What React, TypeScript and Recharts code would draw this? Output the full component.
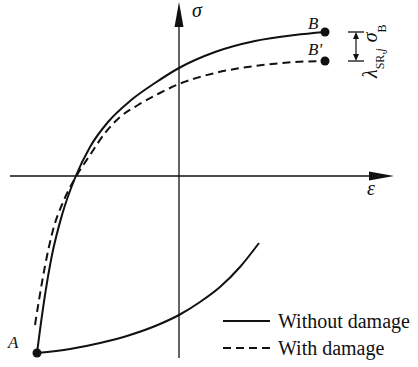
import React from "react";
import {
  ComposedChart,
  Line,
  XAxis,
  YAxis,
  ReferenceLine,
  ReferenceDot,
  Legend,
} from "recharts";

// strain (x) / stress (y) in normalised units, origin at the axes crossing
const withoutDamage = [
  { x: -1.42, y: -1.77 },
  { x: -1.39, y: -1.54 },
  { x: -1.34, y: -1.19 },
  { x: -1.27, y: -0.79 },
  { x: -1.17, y: -0.39 },
  { x: -1.04, y: -0.02 },
  { x: -0.89, y: 0.29 },
  { x: -0.71, y: 0.54 },
  { x: -0.49, y: 0.75 },
  { x: -0.24, y: 0.93 },
  { x: 0, y: 1.08 },
  { x: 0.36, y: 1.24 },
  { x: 0.76, y: 1.35 },
  { x: 1.16, y: 1.41 },
  { x: 1.46, y: 1.44 },
];

const withDamage = [
  { x: -1.44, y: -1.49 },
  { x: -1.4, y: -1.24 },
  { x: -1.34, y: -0.9 },
  { x: -1.26, y: -0.54 },
  { x: -1.15, y: -0.24 },
  { x: -1.02, y: 0.01 },
  { x: -0.89, y: 0.21 },
  { x: -0.74, y: 0.43 },
  { x: -0.59, y: 0.59 },
  { x: -0.41, y: 0.71 },
  { x: -0.21, y: 0.82 },
  { x: 0, y: 0.92 },
  { x: 0.36, y: 1.03 },
  { x: 0.76, y: 1.1 },
  { x: 1.16, y: 1.14 },
  { x: 1.46, y: 1.15 },
];

const lowerBranch = [
  { x: -1.42, y: -1.77 },
  { x: -1.09, y: -1.73 },
  { x: -0.79, y: -1.67 },
  { x: -0.49, y: -1.59 },
  { x: -0.19, y: -1.48 },
  { x: 0, y: -1.39 },
  { x: 0.21, y: -1.26 },
  { x: 0.41, y: -1.11 },
  { x: 0.61, y: -0.91 },
  { x: 0.8, y: -0.67 },
];

const legendOrder = ["Without damage", "With damage"];

const strainDomain = [-1.79, 2.39];
const stressDomain = [-1.91, 1.76];
const strainAxisEnds = [-1.69, 2.15];
const stressAxisEnds = [-1.82, 1.74];
const gapMarkerStrain = 1.77;

const pointA = withoutDamage[0];
const pointB = withoutDamage[withoutDamage.length - 1];
const pointB2 = withDamage[withDamage.length - 1];

const INK = "#111";
const SERIF = "Liberation Serif, Times New Roman, serif";

const ArrowAxis = (props: any) => {
  const { x1, y1, x2, y2 } = props;
  const dx = x2 - x1;
  const dy = y2 - y1;
  const len = Math.hypot(dx, dy) || 1;
  const ux = dx / len;
  const uy = dy / len;
  const headLen = 25;
  const headHalf = 4.5;
  const bx = x2 - ux * headLen;
  const by = y2 - uy * headLen;
  return (
    <g>
      <line x1={x1} y1={y1} x2={bx} y2={by} stroke={INK} strokeWidth={1.3} />
      <polygon
        points={`${x2},${y2} ${bx - uy * headHalf},${by + ux * headHalf} ${bx + uy * headHalf},${by - ux * headHalf}`}
        fill={INK}
      />
    </g>
  );
};

// double arrow between B and B' with the reduction label beside it
const GapMarker = (props: any) => {
  const { x1, y1, y2 } = props;
  const top = Math.min(y1, y2);
  const bottom = Math.max(y1, y2);
  const tick = 8;
  const head = 7;
  const half = 3;
  return (
    <g>
      <line x1={x1 - tick} y1={top} x2={x1 + tick} y2={top} stroke={INK} strokeWidth={1.3} />
      <line x1={x1 - tick} y1={bottom} x2={x1 + tick} y2={bottom} stroke={INK} strokeWidth={1.3} />
      <line x1={x1} y1={top + head} x2={x1} y2={bottom - head} stroke={INK} strokeWidth={1.2} />
      <polygon points={`${x1},${top} ${x1 - half},${top + head} ${x1 + half},${top + head}`} fill={INK} />
      <polygon
        points={`${x1},${bottom} ${x1 - half},${bottom - head} ${x1 + half},${bottom - head}`}
        fill={INK}
      />
      <text
        transform={`translate(${x1 + 21}, ${bottom + 17}) rotate(-90)`}
        fontFamily={SERIF}
        fill={INK}
      >
        <tspan fontSize={20} fontStyle="italic">λ</tspan>
        <tspan fontSize={12} dy={7}>SR,</tspan>
        <tspan fontSize={12} fontStyle="italic">j</tspan>
        <tspan fontSize={20} fontStyle="italic" dx={6} dy={-7}>σ</tspan>
        <tspan fontSize={12} dy={9}>B</tspan>
      </text>
    </g>
  );
};

const labelledDot = (label: string, dx: number, dy: number) => (props: any) => (
  <g>
    <circle cx={props.cx} cy={props.cy} r={4.5} fill={INK} />
    <text
      x={props.cx + dx}
      y={props.cy + dy}
      fontFamily={SERIF}
      fontStyle="italic"
      fontSize={17}
      fill={INK}
    >
      {label}
    </text>
  </g>
);

const renderLegend = (props: any) => {
  const items = (props.payload || [])
    .filter((e: any) => legendOrder.includes(e.value))
    .sort((a: any, b: any) => legendOrder.indexOf(a.value) - legendOrder.indexOf(b.value));
  return (
    <div style={{ fontFamily: SERIF, fontSize: 20, color: INK }}>
      {items.map((e: any) => (
        <div key={e.value} style={{ display: "flex", alignItems: "center", height: 27 }}>
          <svg width={55} height={6} style={{ flex: "none" }}>
            <line
              x1={0}
              y1={3}
              x2={47}
              y2={3}
              stroke={INK}
              strokeWidth={2}
              strokeDasharray={e.payload?.strokeDasharray}
            />
          </svg>
          <span style={{ lineHeight: "27px", whiteSpace: "nowrap" }}>{e.value}</span>
        </div>
      ))}
    </div>
  );
};

export default function App() {
  return (
    <div style={{ position: "absolute", left: 0, top: 0, fontFamily: SERIF }}>
      <ComposedChart width={418} height={367} margin={{ top: 0, right: 0, bottom: 0, left: 0 }}>
        <XAxis type="number" dataKey="x" domain={strainDomain} allowDataOverflow hide />
        <YAxis type="number" dataKey="y" domain={stressDomain} allowDataOverflow hide />

        <ReferenceLine
          segment={[
            { x: strainAxisEnds[0], y: 0 },
            { x: strainAxisEnds[1], y: 0 },
          ]}
          shape={ArrowAxis}
        />
        <ReferenceLine
          segment={[
            { x: 0, y: stressAxisEnds[0] },
            { x: 0, y: stressAxisEnds[1] },
          ]}
          shape={ArrowAxis}
        />

        <Line
          data={withoutDamage}
          dataKey="y"
          name="Without damage"
          type="monotone"
          stroke={INK}
          strokeWidth={2}
          dot={false}
          activeDot={false}
          isAnimationActive={false}
        />
        <Line
          data={withDamage}
          dataKey="y"
          name="With damage"
          type="monotone"
          stroke={INK}
          strokeWidth={2}
          strokeDasharray="8 5"
          dot={false}
          activeDot={false}
          isAnimationActive={false}
        />
        <Line
          data={lowerBranch}
          dataKey="y"
          name="lower"
          type="monotone"
          stroke={INK}
          strokeWidth={2}
          dot={false}
          activeDot={false}
          legendType="none"
          isAnimationActive={false}
        />

        <ReferenceLine
          segment={[
            { x: gapMarkerStrain, y: pointB.y },
            { x: gapMarkerStrain, y: pointB2.y },
          ]}
          shape={GapMarker}
        />

        <ReferenceDot x={pointA.x} y={pointA.y} shape={labelledDot("A", -29, -5)} />
        <ReferenceDot x={pointB.x} y={pointB.y} shape={labelledDot("B", -17, -3)} />
        <ReferenceDot x={pointB2.x} y={pointB2.y} shape={labelledDot("B'", -17, -6)} />

        <ReferenceDot
          x={0}
          y={stressAxisEnds[1]}
          shape={(p: any) => (
            <text x={p.cx + 13} y={p.cy + 15} fontFamily={SERIF} fontStyle="italic" fontSize={20} fill={INK}>
              σ
            </text>
          )}
        />
        <ReferenceDot
          x={strainAxisEnds[1]}
          y={0}
          shape={(p: any) => (
            <text x={p.cx - 27} y={p.cy + 19} fontFamily={SERIF} fontStyle="italic" fontSize={20} fill={INK}>
              ε
            </text>
          )}
        />

        <Legend
          layout="vertical"
          align="center"
          verticalAlign="middle"
          content={renderLegend}
          wrapperStyle={{ left: 223, top: 307.5, width: "auto" }}
        />
      </ComposedChart>
    </div>
  );
}
